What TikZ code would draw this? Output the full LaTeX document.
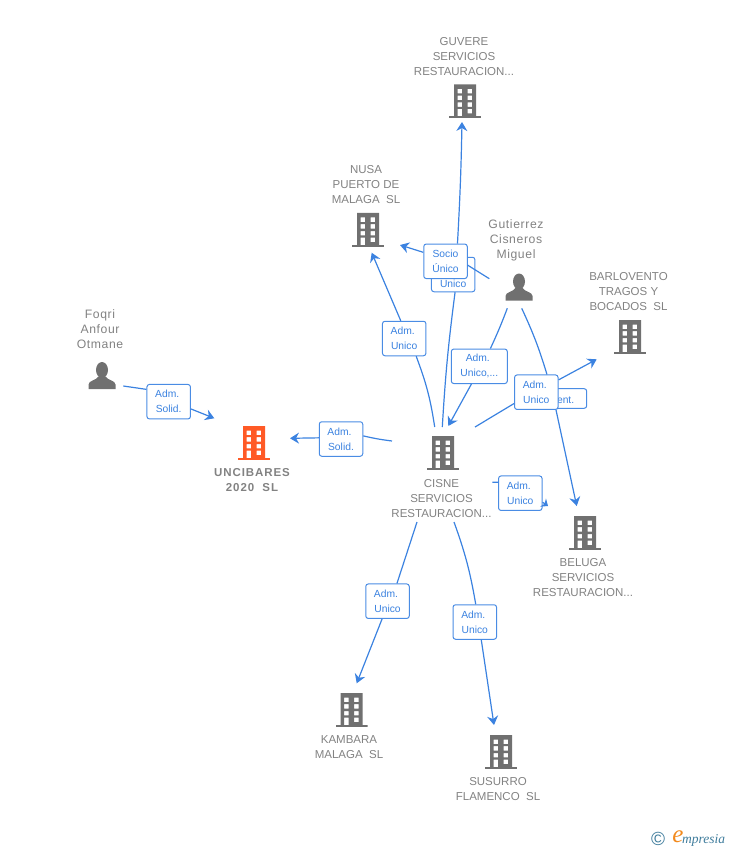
\documentclass[tikz,border=0pt]{standalone}
\usepackage{fontspec}
\setmainfont{Liberation Sans}
\newfontfamily\logofont{Liberation Serif}
\usetikzlibrary{arrows.meta}
\definecolor{linkblue}{HTML}{3B82E0}
\definecolor{boxblue}{HTML}{4A8CE4}
\definecolor{txtgray}{HTML}{828282}
\definecolor{icongray}{HTML}{707070}
\definecolor{iconred}{HTML}{FF5A26}
\definecolor{logoblue}{HTML}{3F7C9C}
\definecolor{logoorange}{HTML}{F28A1E}
\newcommand{\adm}{Adm.\hspace*{3pt}}
\tikzset{
  bldg/.style={minimum width=32pt,minimum height=34pt,inner sep=0pt,
    path picture={
      \begin{scope}[shift={(path picture bounding box.center)}]
        \fill[#1,even odd rule] (-11,-17) rectangle (11,15)
          (-7.5,-12.5) rectangle (-3,-8) (2.5,-12.5) rectangle (7,-8)
          (-7.5,-5.8) rectangle (-3,-1.3) (2.5,-5.8) rectangle (7,-1.3)
          (-7.5,1) rectangle (-3,5.3) (2.5,1) rectangle (7,5.3)
          (-7.5,7.5) rectangle (-3,15) (2.5,7.5) rectangle (7,12);
        \fill[#1] (-16,15) rectangle (16,17);
      \end{scope}
    }},
  bldg/.default=icongray,
  persona/.style={minimum width=28pt,minimum height=28pt,inner sep=0pt,
    path picture={
      \begin{scope}[shift={(path picture bounding box.center)}]
        \fill[icongray] (0,-5.5) ellipse (6 and 8);
        \fill[icongray] (-13.5,13.5) -- (-13.5,9) .. controls (-13.5,5) and (-6,5) .. (-3.5,1)
          -- (3.5,1) .. controls (6,5) and (13.5,5) .. (13.5,9) -- (13.5,13.5) -- cycle;
      \end{scope}
    }},
  nametxt/.style={align=center,text=txtgray,inner sep=0pt,font=\fontsize{11.5}{15}\selectfont},
  whotxt/.style={nametxt,font=\fontsize{12.2}{15}\selectfont\addfontfeature{LetterSpace=5}},
  linkbox/.style={draw=boxblue,line width=1pt,rounded corners=2.5pt,fill=white,align=center,
    text=linkblue,inner sep=0pt,minimum width=43.5pt,minimum height=34.5pt,
    font=\fontsize{10.3}{15}\selectfont,execute at begin node={\rule{0pt}{9.5pt}}},
  link/.style={draw=linkblue,line width=1.2pt},
  linkto/.style={link,-{Stealth[length=9pt,width=11pt,inset=3pt]}}
}

\begin{document}
\begin{tikzpicture}[x=1pt,y=-1pt]
  \useasboundingbox (0,0) rectangle (728,850);

  \node [bldg=iconred] (uncibares) at (254,443) {};
  \node [bldg] (cisne) at (443,453) {};
  \node [bldg] (guvere) at (465,101.5) {};
  \node [bldg] (nusa) at (368,230) {};
  \node [bldg] (barlovento) at (630,337) {};
  \node [bldg] (beluga) at (585,533) {};
  \node [bldg] (kambara) at (351.5,710) {};
  \node [bldg] (susurro) at (501,752) {};
  \node [persona] (foqri) at (102,375.5) {};
  \node [persona] (gutierrez) at (519,287) {};

  \node [nametxt] (guveretxt) at (464,57) {GUVERE\\SERVICIOS\\RESTAURACION...};
  \node [nametxt] (nusatxt) at (366,185) {NUSA\\PUERTO DE\\MALAGA\ \ SL};
  \node [whotxt] (gutierreztxt) at (516,240) {Gutierrez\\Cisneros\\Miguel};
  \node [nametxt] (barloventotxt) at (628.5,292) {BARLOVENTO\\TRAGOS Y\\BOCADOS\ \ SL};
  \node [whotxt] (foqritxt) at (100,329) {Foqri\\Anfour\\Otmane};
  \node [nametxt,font=\fontsize{11.5}{15}\selectfont\bfseries\addfontfeature{LetterSpace=8}] (uncibarestxt) at (252,480.5) {UNCIBARES\\2020\ \ SL};
  \node [nametxt] (cisnetxt) at (441.5,499) {CISNE\\SERVICIOS\\RESTAURACION...};
  \node [nametxt] (belugatxt) at (583,578) {BELUGA\\SERVICIOS\\RESTAURACION...};
  \node [nametxt] (kambaratxt) at (349,747.5) {KAMBARA\\MALAGA\ \ SL};
  \node [nametxt] (susurrotxt) at (498,789.5) {SUSURRO\\FLAMENCO\ \ SL};

  \node [linkbox,minimum width=46pt,minimum height=19.6pt,text width=21pt,align=right] (entbox) at (563.7,398.5) {ent.};
  \node [linkbox,execute at begin node={\rule{0pt}{26pt}}] (unibox) at (453.2,274.5) {Unico};
  \node [linkbox] (sociobox) at (445.5,261.3) {Socio\\Único};
  \node [linkbox] (admnusa) at (404.2,338.5) {\adm\\Unico};
  \node [linkbox,minimum width=56pt] (admcisne) at (479.3,366.3) {\adm\\Unico,...};
  \node [linkbox] (admbarl) at (536.3,392.2) {\adm\\Unico};
  \node [linkbox] (admbelu) at (520.3,493.2) {\adm\\Unico};
  \node [linkbox] (admuni) at (341,439) {\adm\\Solid.};
  \node [linkbox] (admfoq) at (168.7,401.7) {\adm\\Solid.};
  \node [linkbox] (admkam) at (387.5,601.2) {\adm\\Unico};
  \node [linkbox] (admsus) at (474.8,622) {\adm\\Unico};

  \coordinate (c1) at (442.3,427);
  \coordinate (c2) at (434.7,427);
  \coordinate (c3) at (475,427);
  \coordinate (c4) at (492.3,482.3);
  \coordinate (c5) at (392,441);
  \coordinate (c6) at (417,522);
  \coordinate (c7) at (454,522);
  \coordinate (g1) at (489.3,278.7);
  \coordinate (g2) at (507.3,308.3);
  \coordinate (g3) at (521.7,308.3);
  \coordinate (f1) at (123.3,386);
  \coordinate (guveretip) at (462,122);
  \coordinate (nusatip1) at (371.7,252.7);
  \coordinate (nusatip2) at (400,245);
  \coordinate (cisnetip) at (448.3,426);
  \coordinate (barltip) at (596.7,359.3);
  \coordinate (belutip1) at (576.7,506);
  \coordinate (belutip2) at (548,506);
  \coordinate (unitip1) at (290,438.3);
  \coordinate (unitip2) at (214.3,418.3);
  \coordinate (kamtip) at (356.7,683.3);
  \coordinate (sustip) at (494,725);

  \draw [link] (c1) to [bend left=2] (unibox.-84);
  \draw [linkto] (sociobox.56) to [bend right=1] (guveretip);
  \draw [link] (g1) -- (sociobox.-10);
  \draw [linkto] (sociobox.158) -- (nusatip2);
  \draw [link] (c2) to [bend right=6] (admnusa.-56);
  \draw [linkto] (admnusa.101) -- (nusatip1);
  \draw [link] (g2) to [bend left=2] (admcisne.58);
  \draw [linkto] (admcisne.-114) -- (cisnetip);
  \draw [link] (g3) to [bend left=4] (admbarl.59);
  \draw [linkto] (admbarl.-42) -- (belutip1);
  \draw [link] (c3) -- (admbarl.207);
  \draw [linkto] (admbarl.29) -- (barltip);
  \draw [link] (c4) -- (admbelu.154);
  \draw [link,-{Stealth[length=6pt,width=10pt,inset=2pt]}] (admbelu.-22) -- (belutip2);
  \draw [link] (c5) to [bend left=3] (admuni.8);
  \draw [linkto] (admuni.177) -- (unitip1);
  \draw [link] (f1) -- (admfoq.151);
  \draw [linkto] (admfoq.-18) -- (unitip2);
  \draw [link] (c6) -- (admkam.62);
  \draw [linkto] (admkam.-107) -- (kamtip);
  \draw [link] (c7) to [bend left=5] (admsus.87);
  \draw [linkto] (admsus.-70) -- (sustip);

  \node [text=logoblue,inner sep=0pt,font=\fontsize{19}{19}\selectfont] (logoc) at (658,839) {\textcopyright};
  \node [text=logoorange,inner sep=0pt,font=\logofont\itshape\fontsize{25}{25}\selectfont] (logoe) at (678,836.5) {e};
  \node [text=logoblue,inner sep=0pt,anchor=base west,font=\logofont\itshape\fontsize{13.5}{13.5}\selectfont] (logotxt) at (682,843) {mpresia};
\end{tikzpicture}
\end{document}
